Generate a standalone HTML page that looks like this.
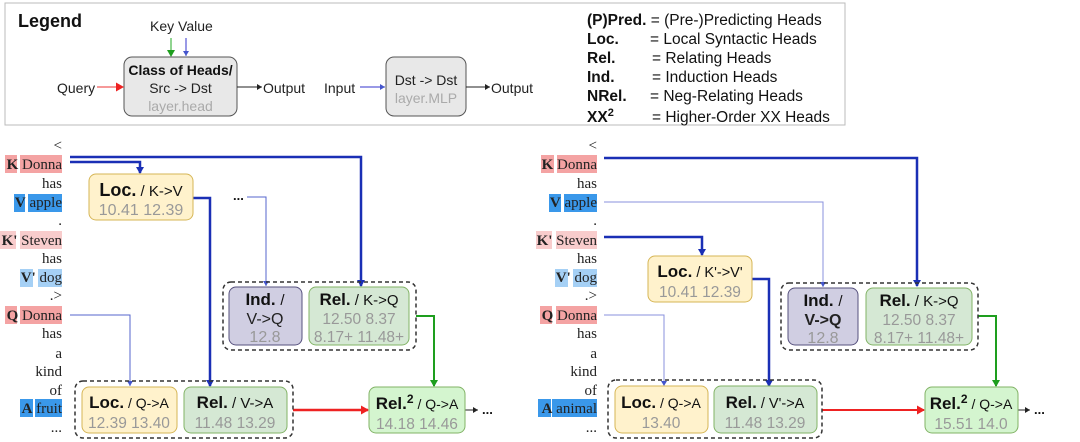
<!DOCTYPE html>
<html><head><meta charset="utf-8"><style>
html,body{margin:0;padding:0;background:#fff;}
svg{display:block;}
.s{font-family:"Liberation Serif",serif;font-size:15px;fill:#222;}
.a{font-family:"Liberation Sans",sans-serif;}
</style></head><body>
<svg width="1080" height="442" viewBox="0 0 1080 442" xmlns="http://www.w3.org/2000/svg">
<defs>
<marker id="mb" markerWidth="8" markerHeight="8" refX="6" refY="4" orient="auto" markerUnits="userSpaceOnUse"><path d="M0,0 L7,4 L0,8 z" fill="#1a2fb5"/></marker>
<marker id="mt" markerWidth="6" markerHeight="6" refX="5" refY="3" orient="auto" markerUnits="userSpaceOnUse"><path d="M0,0 L5,3 L0,6 z" fill="#4455cc"/></marker>
<marker id="mg" markerWidth="8" markerHeight="8" refX="6" refY="4" orient="auto" markerUnits="userSpaceOnUse"><path d="M0,0 L7,4 L0,8 z" fill="#1e9e1e"/></marker>
<marker id="mr" markerWidth="9" markerHeight="9" refX="7" refY="4.5" orient="auto" markerUnits="userSpaceOnUse"><path d="M0,0 L8,4.5 L0,9 z" fill="#ee2222"/></marker>
<marker id="mk" markerWidth="6" markerHeight="6" refX="5" refY="3" orient="auto" markerUnits="userSpaceOnUse"><path d="M0,0 L5,3 L0,6 z" fill="#222"/></marker>
</defs>

<!-- Legend -->
<rect x="5" y="3" width="840" height="122" fill="#fff" stroke="#bbb"/>
<g class="a">
<text x="18" y="27" font-size="18" font-weight="bold" fill="#111">Legend</text>
<text x="150" y="31" font-size="14" fill="#222">Key Value</text>
<line x1="171" y1="38" x2="171" y2="56" stroke="#2a2" marker-end="url(#mg)"/>
<line x1="186" y1="38" x2="186" y2="56" stroke="#33c" marker-end="url(#mt)"/>
<rect x="124" y="57" width="113" height="59" rx="8" fill="#e8e8e8" stroke="#555"/>
<text x="180.5" y="75" font-size="14" font-weight="bold" text-anchor="middle" fill="#111">Class of Heads/</text>
<text x="180.5" y="93" font-size="14" text-anchor="middle" fill="#222">Src -&gt; Dst</text>
<text x="180.5" y="111" font-size="14" text-anchor="middle" fill="#aaa">layer.head</text>
<text x="57" y="93" font-size="14" fill="#222">Query</text>
<line x1="97" y1="87" x2="123" y2="87" stroke="#e33" marker-end="url(#mr)"/>
<line x1="237" y1="87" x2="262" y2="87" stroke="#222" marker-end="url(#mk)"/>
<text x="263" y="93" font-size="14" fill="#222">Output</text>
<text x="324" y="93" font-size="14" fill="#222">Input</text>
<line x1="360" y1="87" x2="385" y2="87" stroke="#33c" marker-end="url(#mt)"/>
<rect x="386" y="57" width="80" height="59" rx="8" fill="#e8e8e8" stroke="#555"/>
<text x="426" y="85" font-size="14" text-anchor="middle" fill="#222">Dst -&gt; Dst</text>
<text x="426" y="103" font-size="14" text-anchor="middle" fill="#aaa">layer.MLP</text>
<line x1="466" y1="87" x2="490" y2="87" stroke="#222" marker-end="url(#mk)"/>
<text x="491" y="93" font-size="14" fill="#222">Output</text>
<g font-size="15.5" fill="#111">
<text x="587" y="25"><tspan font-weight="bold">(P)Pred.</tspan> = (Pre-)Predicting Heads</text>
<text x="587" y="44" font-weight="bold">Loc.</text><text x="650" y="44">= Local Syntactic Heads</text>
<text x="587" y="63" font-weight="bold">Rel.</text><text x="652" y="63">= Relating Heads</text>
<text x="587" y="82" font-weight="bold">Ind.</text><text x="652" y="82">= Induction Heads</text>
<text x="587" y="101" font-weight="bold">NRel.</text><text x="650" y="101">= Neg-Relating Heads</text>
<text x="587" y="122" font-weight="bold">XX<tspan dy="-6" font-size="11">2</tspan></text><text x="652" y="122">= Higher-Order XX Heads</text>
</g>
</g>

<!-- token columns -->
<g>
<rect x="5" y="155" width="12" height="18" fill="#f4a3a3"/><rect x="20" y="155" width="42" height="18" fill="#f4a3a3"/>
<rect x="14" y="194" width="11" height="18" fill="#3a98ea"/><rect x="28" y="194" width="34" height="18" fill="#3a98ea"/>
<rect x="0" y="231" width="16" height="18" fill="#f8cccc"/><rect x="20" y="231" width="42" height="18" fill="#f8cccc"/>
<rect x="20" y="269" width="13" height="18" fill="#a5d0f5"/><rect x="38" y="269" width="24" height="18" fill="#a5d0f5"/>
<rect x="5" y="306" width="12" height="18" fill="#f4a3a3"/><rect x="20" y="306" width="42" height="18" fill="#f4a3a3"/>
<rect x="20" y="399" width="13" height="18" fill="#3a98ea"/><rect x="35" y="399" width="27" height="18" fill="#3a98ea"/>
<g class="s" text-anchor="end">
<text x="62" y="150">&lt;</text>
<text x="62" y="169"><tspan font-weight="bold">K</tspan> Donna</text>
<text x="62" y="188">has</text>
<text x="62" y="207"><tspan font-weight="bold">V</tspan> apple</text>
<text x="62" y="225">.</text>
<text x="62" y="245"><tspan font-weight="bold">K'</tspan> Steven</text>
<text x="62" y="263">has</text>
<text x="62" y="282"><tspan font-weight="bold">V'</tspan> dog</text>
<text x="62" y="300">.&gt;</text>
<text x="62" y="320"><tspan font-weight="bold">Q</tspan> Donna</text>
<text x="62" y="338">has</text>
<text x="62" y="358">a</text>
<text x="62" y="376">kind</text>
<text x="62" y="395">of</text>
<text x="62" y="413"><tspan font-weight="bold">A</tspan> fruit</text>
<text x="62" y="432">...</text>
</g>
</g>
<g>
<rect x="541" y="155" width="13" height="18" fill="#f4a3a3"/><rect x="557" y="155" width="40" height="18" fill="#f4a3a3"/>
<rect x="549" y="194" width="12" height="18" fill="#3a98ea"/><rect x="564" y="194" width="33" height="18" fill="#3a98ea"/>
<rect x="536" y="231" width="16" height="18" fill="#f8cccc"/><rect x="556" y="231" width="41" height="18" fill="#f8cccc"/>
<rect x="555" y="269" width="13" height="18" fill="#a5d0f5"/><rect x="573" y="269" width="24" height="18" fill="#a5d0f5"/>
<rect x="540" y="306" width="12" height="18" fill="#f4a3a3"/><rect x="556" y="306" width="41" height="18" fill="#f4a3a3"/>
<rect x="538" y="399" width="13" height="18" fill="#3a98ea"/><rect x="552" y="399" width="45" height="18" fill="#3a98ea"/>
<g class="s" text-anchor="end">
<text x="597" y="150">&lt;</text>
<text x="597" y="169"><tspan font-weight="bold">K</tspan> Donna</text>
<text x="597" y="188">has</text>
<text x="597" y="207"><tspan font-weight="bold">V</tspan> apple</text>
<text x="597" y="225">.</text>
<text x="597" y="245"><tspan font-weight="bold">K'</tspan> Steven</text>
<text x="597" y="263">has</text>
<text x="597" y="282"><tspan font-weight="bold">V'</tspan> dog</text>
<text x="597" y="300">.&gt;</text>
<text x="597" y="320"><tspan font-weight="bold">Q</tspan> Donna</text>
<text x="597" y="338">has</text>
<text x="597" y="358">a</text>
<text x="597" y="376">kind</text>
<text x="597" y="395">of</text>
<text x="597" y="413"><tspan font-weight="bold">A</tspan> animal</text>
<text x="597" y="432">...</text>
</g>
</g>

<!-- Left panel connectors -->
<g fill="none">
<polyline points="70,157 361,157 361,286" stroke="#1a2fb5" stroke-width="2.5" marker-end="url(#mb)"/>
<polyline points="70,162 140,162 140,173" stroke="#1a2fb5" stroke-width="2.5" marker-end="url(#mb)"/>
<polyline points="193,198 210,198 210,386" stroke="#1a2fb5" stroke-width="2.5" marker-end="url(#mb)"/>
<polyline points="247,197 266,197 266,286" stroke="#5566cc" stroke-width="1" marker-end="url(#mt)"/>
<polyline points="70,315 130,315 130,386" stroke="#5566cc" stroke-width="1" marker-end="url(#mt)"/>
<polyline points="416,316 434,316 434,386" stroke="#1e9e1e" stroke-width="2" marker-end="url(#mg)"/>
<line x1="293" y1="410" x2="368" y2="410" stroke="#ee2222" stroke-width="2.5" marker-end="url(#mr)"/>
<line x1="465" y1="410" x2="478" y2="410" stroke="#222" stroke-width="1" marker-end="url(#mk)"/>
</g>
<text x="233" y="200" class="a" font-size="13" font-weight="bold" fill="#111">...</text>
<text x="482" y="414" class="a" font-size="13" font-weight="bold" fill="#111">...</text>

<!-- Left panel boxes -->
<g class="a">
<rect x="223" y="282" width="193" height="68" rx="8" fill="none" stroke="#333" stroke-width="1.5" stroke-dasharray="4,3"/>
<rect x="75" y="381" width="218" height="57" rx="8" fill="none" stroke="#333" stroke-width="1.5" stroke-dasharray="4,3"/>
<rect x="89" y="174" width="104" height="46" rx="7" fill="#fff2cc" stroke="#d6b656"/>
<text x="141" y="196" text-anchor="middle" font-size="18" fill="#111"><tspan font-weight="bold">Loc.</tspan><tspan font-size="15"> / K-&gt;V</tspan></text>
<text x="141" y="215" text-anchor="middle" font-size="16" fill="#999">10.41 12.39</text>
<rect x="229" y="287" width="73" height="58" rx="7" fill="#d0cee2" stroke="#56517e"/>
<text x="265" y="305" text-anchor="middle" font-size="17" font-weight="bold" fill="#111">Ind. <tspan font-weight="normal" font-size="15">/</tspan></text>
<text x="265" y="324" text-anchor="middle" font-size="16" fill="#222">V-&gt;Q</text>
<text x="265" y="342" text-anchor="middle" font-size="16" fill="#999">12.8</text>
<rect x="309" y="287" width="100" height="58" rx="7" fill="#d5e8d4" stroke="#82b366"/>
<text x="359" y="305" text-anchor="middle" font-size="17" fill="#111"><tspan font-weight="bold">Rel.</tspan><tspan font-size="15"> / K-&gt;Q</tspan></text>
<text x="359" y="324" text-anchor="middle" font-size="15.5" fill="#999">12.50 8.37</text>
<text x="359" y="342" text-anchor="middle" font-size="15.5" fill="#999">8.17+ 11.48+</text>
<rect x="82" y="387" width="95" height="46" rx="7" fill="#fff2cc" stroke="#d6b656"/>
<text x="129" y="408" text-anchor="middle" font-size="17" fill="#111"><tspan font-weight="bold">Loc.</tspan><tspan font-size="14"> / Q-&gt;A</tspan></text>
<text x="129" y="428" text-anchor="middle" font-size="15.5" fill="#999">12.39 13.40</text>
<rect x="184" y="387" width="103" height="46" rx="7" fill="#d5e8d4" stroke="#82b366"/>
<text x="235" y="408" text-anchor="middle" font-size="17" fill="#111"><tspan font-weight="bold">Rel.</tspan><tspan font-size="15"> / V-&gt;A</tspan></text>
<text x="235" y="428" text-anchor="middle" font-size="15.5" fill="#999">11.48 13.29</text>
<rect x="369" y="387" width="96" height="46" rx="7" fill="#d4f5cf" stroke="#82b366"/>
<text x="417" y="409" text-anchor="middle" font-size="17" fill="#111"><tspan font-weight="bold">Rel.<tspan dy="-6" font-size="12">2</tspan></tspan><tspan dy="6" font-size="14"> / Q-&gt;A</tspan></text>
<text x="417" y="429" text-anchor="middle" font-size="15.5" fill="#999">14.18 14.46</text>
</g>

<!-- Right panel connectors -->
<g fill="none">
<polyline points="604,158 917,158 917,286" stroke="#1a2fb5" stroke-width="2.5" marker-end="url(#mb)"/>
<polyline points="604,202 823,202 823,287" stroke="#8890dd" stroke-width="1" marker-end="url(#mt)"/>
<polyline points="604,237 702,237 702,255" stroke="#1a2fb5" stroke-width="2.5" marker-end="url(#mb)"/>
<polyline points="752,279 769,279 769,386" stroke="#1a2fb5" stroke-width="2.5" marker-end="url(#mb)"/>
<polyline points="604,315 664,315 664,386" stroke="#8890dd" stroke-width="1" marker-end="url(#mt)"/>
<polyline points="978,316 996,316 996,386" stroke="#1e9e1e" stroke-width="2" marker-end="url(#mg)"/>
<line x1="822" y1="410" x2="924" y2="410" stroke="#ee2222" stroke-width="2" marker-end="url(#mr)"/>
<line x1="1018" y1="410" x2="1030" y2="410" stroke="#222" stroke-width="1" marker-end="url(#mk)"/>
</g>
<text x="1034" y="414" class="a" font-size="13" font-weight="bold" fill="#111">...</text>

<g class="a">
<rect x="781" y="283" width="197" height="67" rx="8" fill="none" stroke="#333" stroke-width="1.5" stroke-dasharray="4,3"/>
<rect x="608" y="380" width="214" height="58" rx="8" fill="none" stroke="#333" stroke-width="1.5" stroke-dasharray="4,3"/>
<rect x="648" y="256" width="104" height="46" rx="7" fill="#fff2cc" stroke="#d6b656"/>
<text x="700" y="277" text-anchor="middle" font-size="17" fill="#111"><tspan font-weight="bold">Loc.</tspan><tspan font-size="14.5"> / K'-&gt;V'</tspan></text>
<text x="700" y="297" text-anchor="middle" font-size="15.5" fill="#999">10.41 12.39</text>
<rect x="788" y="288" width="70" height="57" rx="7" fill="#d0cee2" stroke="#56517e"/>
<text x="823" y="306" text-anchor="middle" font-size="17" font-weight="bold" fill="#111">Ind. <tspan font-weight="normal" font-size="15">/</tspan></text>
<text x="823" y="325" text-anchor="middle" font-size="16" font-weight="bold" fill="#222">V-&gt;Q</text>
<text x="823" y="343" text-anchor="middle" font-size="16" fill="#999">12.8</text>
<rect x="866" y="288" width="106" height="57" rx="7" fill="#d5e8d4" stroke="#82b366"/>
<text x="919" y="306" text-anchor="middle" font-size="17" fill="#111"><tspan font-weight="bold">Rel.</tspan><tspan font-size="15"> / K-&gt;Q</tspan></text>
<text x="919" y="325" text-anchor="middle" font-size="15.5" fill="#999">12.50 8.37</text>
<text x="919" y="343" text-anchor="middle" font-size="15.5" fill="#999">8.17+ 11.48+</text>
<rect x="615" y="386" width="93" height="47" rx="7" fill="#fff2cc" stroke="#d6b656"/>
<text x="661" y="408" text-anchor="middle" font-size="17" fill="#111"><tspan font-weight="bold">Loc.</tspan><tspan font-size="14"> / Q-&gt;A</tspan></text>
<text x="661" y="428" text-anchor="middle" font-size="15.5" fill="#999">13.40</text>
<rect x="714" y="386" width="103" height="47" rx="7" fill="#d5e8d4" stroke="#82b366"/>
<text x="765" y="408" text-anchor="middle" font-size="17" fill="#111"><tspan font-weight="bold">Rel.</tspan><tspan font-size="14.5"> / V'-&gt;A</tspan></text>
<text x="765" y="428" text-anchor="middle" font-size="15.5" fill="#999">11.48 13.29</text>
<rect x="925" y="387" width="93" height="46" rx="7" fill="#d4f5cf" stroke="#82b366"/>
<text x="971" y="409" text-anchor="middle" font-size="17" fill="#111"><tspan font-weight="bold">Rel.<tspan dy="-6" font-size="12">2</tspan></tspan><tspan dy="6" font-size="14"> / Q-&gt;A</tspan></text>
<text x="971" y="429" text-anchor="middle" font-size="15.5" fill="#999">15.51 14.0</text>
</g>
</svg>
</body></html>
